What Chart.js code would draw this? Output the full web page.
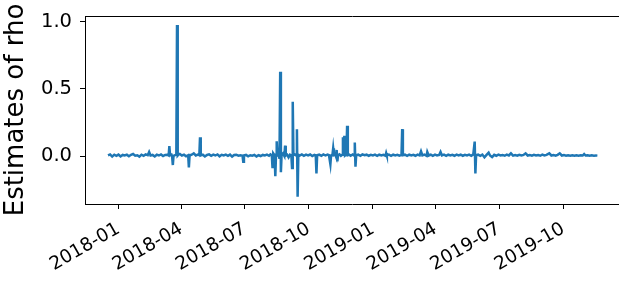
<!DOCTYPE html>
<html>
<head>
<meta charset="utf-8">
<script src="https://cdn.jsdelivr.net/npm/chart.js@4/dist/chart.umd.min.js"></script>
<style>
  html, body { margin: 0; padding: 0; background: #fff; }
  canvas { display: block; }
</style>
</head>
<body>
<canvas id="rho" width="619" height="283"></canvas>
<script>
// days counted from 2018-01-01
const dayOffsets = [
  -15, -12, -9, -6, -3, 0, 3, 6, 9, 12,
  15, 18, 21, 24, 27, 30, 33, 36, 39, 42,
  44, 46, 49, 52, 55, 58, 61, 64, 67, 70,
  72, 73, 74, 76, 77, 78, 79, 82, 83, 84,
  85, 86, 88, 91, 94, 97, 100, 101, 102, 105,
  108, 111, 114, 116, 117, 118, 121, 124, 127, 130,
  133, 136, 139, 142, 145, 148, 151, 154, 157, 160,
  163, 166, 169, 172, 175, 178, 179, 180, 183, 186,
  189, 192, 195, 198, 201, 204, 207, 210, 213, 216,
  218, 220, 221, 222, 224, 225, 226, 227, 228, 230,
  231, 232, 233, 234, 236, 238, 239, 240, 242, 244,
  246, 248, 249, 250, 251, 253, 255, 256, 257, 258,
  260, 263, 266, 269, 272, 275, 278, 281, 283, 284,
  285, 288, 291, 294, 297, 300, 302, 304, 305, 307,
  308, 309, 311, 312, 313, 314, 315, 317, 319, 321,
  322, 323, 324, 325, 327, 328, 329, 331, 333, 336,
  338, 339, 340, 341, 344, 347, 350, 353, 356, 359,
  362, 365, 368, 371, 374, 377, 380, 383, 384, 385,
  388, 391, 394, 397, 400, 403, 406, 407, 408, 411,
  414, 417, 420, 423, 426, 429, 432, 434, 436, 439,
  442, 443, 445, 448, 451, 454, 457, 460, 462, 464,
  467, 470, 473, 476, 479, 482, 485, 488, 491, 494,
  497, 500, 503, 506, 509, 511, 512, 513, 516, 519,
  522, 525, 528, 531, 533, 536, 539, 542, 545, 548,
  551, 554, 557, 560, 563, 566, 569, 572, 575, 578,
  581, 584, 587, 590, 593, 596, 599, 602, 605, 608,
  611, 614, 618, 621, 624, 627, 630, 633, 636, 639,
  642, 645, 648, 651, 654, 657, 660, 663, 666, 668,
  670, 673, 676, 679, 682, 685, 687
];

const rhoValues = [
  0.005, 0.012, -0.004, 0.010, 0.002, 0.011, -0.003, 0.008, 0.004, 0.010,
  -0.002, 0.009, 0.015, 0.003, 0.006, -0.004, 0.010, 0.002, 0.012, 0.006,
  0.030, 0.004, 0.008, -0.003, 0.010, 0.004, 0.012, 0.000, 0.008, 0.010,
  0.004, 0.074, 0.006, 0.010, -0.005, -0.067, 0.002, 0.008, 0.010, 0.975,
  0.004, 0.010, 0.015, 0.004, 0.010, -0.002, 0.006, -0.084, 0.004, 0.010,
  0.020, 0.004, 0.010, 0.006, 0.139, 0.004, 0.010, -0.003, 0.008, 0.012,
  0.002, 0.010, 0.004, 0.012, -0.002, 0.009, 0.004, 0.010, 0.002, 0.011,
  -0.004, 0.008, 0.010, 0.003, 0.006, 0.002, -0.042, 0.004, 0.008, -0.002,
  0.006, 0.002, 0.008, -0.003, 0.006, 0.000, 0.008, 0.004, 0.010, 0.002,
  0.012, 0.004, -0.090, 0.020, 0.005, -0.150, 0.010, 0.110, 0.004, 0.010,
  -0.020, 0.627, -0.120, 0.010, 0.020, 0.000, 0.077, 0.004, 0.010, -0.010,
  0.010, 0.004, -0.090, 0.404, 0.006, 0.012, 0.004, 0.200, -0.303, 0.010,
  0.004, 0.012, 0.002, 0.010, 0.004, 0.011, 0.000, 0.008, 0.004, -0.130,
  0.006, 0.010, 0.002, 0.012, 0.004, 0.010, 0.006, -0.060, 0.004, 0.010,
  0.057, 0.006, 0.010, -0.004, 0.045, -0.040, 0.006, 0.012, 0.002, 0.010,
  0.140, 0.006, 0.150, 0.004, 0.012, 0.226, 0.006, 0.010, 0.002, 0.012,
  0.004, 0.100, -0.080, 0.006, 0.010, 0.002, 0.012, 0.006, 0.010, 0.002,
  0.009, 0.004, 0.010, 0.002, 0.011, 0.004, 0.009, 0.002, 0.022, 0.004,
  0.010, 0.002, 0.011, 0.004, 0.009, 0.002, 0.008, 0.200, 0.006, 0.010,
  0.002, 0.011, 0.004, 0.009, 0.002, 0.010, 0.004, 0.035, 0.004, 0.010,
  0.002, 0.030, 0.004, 0.011, 0.002, 0.010, 0.004, 0.008, 0.030, 0.004,
  0.010, 0.002, 0.011, 0.004, 0.009, 0.002, 0.010, 0.004, 0.011, 0.002,
  0.009, 0.004, 0.010, 0.002, 0.012, 0.107, -0.130, 0.006, 0.010, 0.002,
  0.011, -0.010, 0.008, 0.025, 0.004, -0.008, 0.009, 0.002, 0.010, 0.004,
  0.008, 0.002, 0.010, 0.004, 0.020, 0.003, 0.008, 0.002, 0.009, 0.004,
  0.008, 0.020, 0.004, 0.008, 0.002, 0.009, 0.004, 0.008, 0.002, 0.010,
  0.004, 0.008, 0.020, 0.004, 0.008, 0.002, 0.009, 0.020, 0.004, 0.008,
  0.002, 0.006, 0.003, 0.006, 0.002, 0.006, 0.003, 0.006, 0.004, 0.015,
  0.004, 0.006, 0.002, 0.005, 0.003, 0.004, 0.003
];

const xTickLabels = ['2018-01', '2018-04', '2018-07', '2018-10', '2019-01', '2019-04', '2019-07', '2019-10'];
const yTickValues = [0.0, 0.5, 1.0];

// turn a 'YYYY-MM' label into days since 2018-01-01
const labelToDay = (lbl) => {
  const [y, m] = lbl.split('-').map(Number);
  return (Date.UTC(y, m - 1, 1) - Date.UTC(2018, 0, 1)) / 86400000;
};
const xTickDays = xTickLabels.map(labelToDay);

const points = dayOffsets.map((d, i) => ({ x: d, y: rhoValues[i] }));

const fam = "'DejaVu Sans', sans-serif";

const ctx = document.getElementById('rho').getContext('2d');
const chart = new Chart(ctx, {
  type: 'line',
  data: {
    datasets: [{
      data: points,
      borderColor: '#1f77b4',
      borderWidth: 2.5,
      pointRadius: 0,
      tension: 0,
      fill: false,
    }],
  },
  options: {
    responsive: false,
    animation: false,
    devicePixelRatio: 1,
    layout: { padding: 0 },
    plugins: {
      legend: { display: false },
      tooltip: { enabled: false },
    },
    scales: {
      x: {
        type: 'linear',
        position: 'bottom',
        min: -48,
        max: 718,
        afterBuildTicks: (scale) => {
          scale.ticks = xTickDays.map((v) => ({ value: v }));
        },
        afterFit: (scale) => { scale.height = 79; },
        ticks: {
          autoSkip: false,
          minRotation: 30,
          maxRotation: 30,
          padding: 9,
          color: '#000',
          font: { family: fam, size: 18.5 },
          callback: (value) => {
            const i = xTickDays.indexOf(value);
            return i >= 0 ? xTickLabels[i] : '';
          },
        },
        grid: {
          drawOnChartArea: false,
          drawTicks: true,
          tickLength: 5,
          color: '#000',
        },
        border: { display: true, color: '#000', width: 1 },
      },
      x2: {
        type: 'linear',
        position: 'top',
        min: -48,
        max: 718,
        afterFit: (scale) => { scale.height = 16; },
        ticks: { display: false },
        grid: { drawOnChartArea: false, drawTicks: false },
        border: { display: true, color: '#000', width: 1 },
      },
      y: {
        type: 'linear',
        min: -0.357,
        max: 1.042,
        afterBuildTicks: (scale) => {
          scale.ticks = yTickValues.map((v) => ({ value: v }));
        },
        afterFit: (scale) => {
          scale.width = 85;
          // no extra room above the top tick label
          scale.paddingTop = 0;
          scale.paddingBottom = 0;
        },
        ticks: {
          padding: 8,
          color: '#000',
          font: { family: fam, size: 19.5 },
          callback: (value) => value.toFixed(1),
        },
        grid: {
          drawOnChartArea: false,
          drawTicks: true,
          tickLength: 5,
          color: '#000',
        },
        border: { display: true, color: '#000', width: 1 },
        title: {
          display: true,
          text: 'Estimates of rho',
          color: '#000',
          padding: { top: 1, bottom: 0 },
          font: { family: fam, size: 26 },
        },
      },
    },
  },
});
</script>
</body>
</html>
